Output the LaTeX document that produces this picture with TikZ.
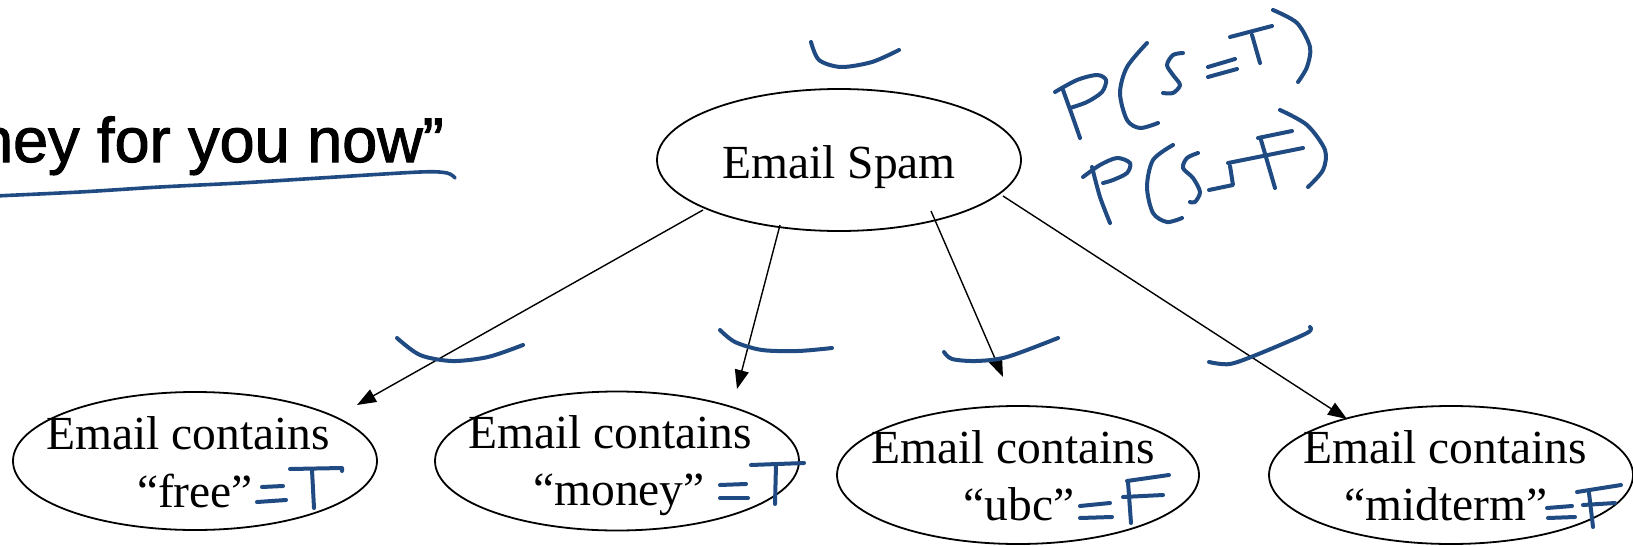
\documentclass[tikz,border=0pt]{standalone}
\usepackage{fontspec}
\setmainfont{Liberation Serif}
\newfontfamily\headfont[FakeBold=1.6]{Liberation Sans}
\usetikzlibrary{arrows.meta,shapes.geometric,calc}
\definecolor{inkblue}{RGB}{31,75,130}
\tikzset{
  oval/.style={ellipse, draw, line width=1.8pt, inner sep=0pt},
  lbl/.style={inner sep=0pt, anchor=base, font=\fontsize{47.5}{57}\selectfont},
  link/.style={line width=1.4pt, -{Triangle[length=19pt,width=14pt]}},
  ink/.style={draw=inkblue, line width=4pt, line cap=round, line join=round},
}
\begin{document}
\begin{tikzpicture}[x=1pt,y=-1pt]
\useasboundingbox (0,0) rectangle (1633,546);

% heading fragment with its hand-drawn underline
\node[inner sep=0pt, anchor=base east, font=\headfont\fontsize{63}{75}\selectfont] (head) at (444,162) {ney for you now”};
\draw[ink, line width=3.6pt] plot[smooth] coordinates {(-5,196) (80,192) (160,187) (240,183) (320,178) (420,172) (447,173) (455,178)};

% nodes
\node[oval, minimum width=364pt, minimum height=142pt] (spam) at (839,160) {};
\node[lbl] (spamtxt) at (839,178) {Email Spam};

\node[oval, minimum width=364pt, minimum height=138pt] (free) at (195,461) {};
\node[lbl] (free1) at (188,449) {Email contains};
\node[lbl] (free2) at (195,507) {“free”};

\node[oval, minimum width=364pt, minimum height=139pt] (money) at (617,461) {};
\node[lbl] (money1) at (610,448) {Email contains};
\node[lbl] (money2) at (619,505) {“money”};

\node[oval, minimum width=362pt, minimum height=138pt] (ubc) at (1018,475) {};
\node[lbl] (ubc1) at (1013,463) {Email contains};
\node[lbl] (ubc2) at (1019,520) {“ubc”};

\node[oval, minimum width=364pt, minimum height=138pt] (midterm) at (1451,475) {};
\node[lbl] (midterm1) at (1445,463) {Email contains};
\node[lbl] (midterm2) at (1446,520) {“midterm”};

% connectors
\coordinate (sFree) at ($(spam.center)+(-136,50)$);
\coordinate (sMoney) at ($(spam.center)+(-59,65)$);
\coordinate (sUbc) at ($(spam.center)+(92,51)$);
\coordinate (sMid) at ($(spam.center)+(164,36)$);
\coordinate (tFree) at ($(free.center)+(162,-56)$);
\coordinate (tMoney) at ($(money.center)+(120,-72)$);
\coordinate (tUbc) at ($(ubc.center)+(-15,-98)$);
\coordinate (tMid) at ($(midterm.center)+(-104,-56)$);
\draw[link] (sFree) -- (tFree);
\draw[link] (sMoney) -- (tMoney);
\draw[link] (sUbc) -- (tUbc);
\draw[link] (sMid) -- (tMid);

% ink marks over the nodes and arrows
\draw[ink] plot[smooth] coordinates {(811,42) (819,60) (841,67) (872,62) (899,50)};
\draw[ink] plot[smooth] coordinates {(397,338) (420,355) (452,361) (488,357) (523,345)};
\draw[ink] plot[smooth] coordinates {(720,330) (735,342) (762,350) (798,351) (832,348)};
\draw[ink] plot[smooth] coordinates {(944,352) (952,359) (976,361) (1007,357) (1058,338)};
\draw[ink] plot[smooth] coordinates {(1209,362) (1230,364) (1261,353) (1307,333) (1310,327)};

% P(S=T)
\draw[ink] plot[smooth] coordinates {(1063,90) (1072,115) (1080,138)};
\draw[ink] plot[smooth] coordinates {(1055,92) (1077,80) (1097,75) (1106,80) (1102,92) (1087,102) (1070,108)};
\draw[ink] plot[smooth] coordinates {(1147,43) (1127,67) (1120,93) (1127,120) (1140,128) (1158,123)};
\draw[ink] plot[smooth] coordinates {(1183,53) (1173,55) (1167,65) (1173,75) (1180,85) (1173,93) (1163,93)};
\draw[ink] (1208,67) -- (1235,59);
\draw[ink] (1208,77) -- (1237,69);
\draw[ink] (1230,37) -- (1272,26);
\draw[ink] (1252,35) -- (1260,63);
\draw[ink] plot[smooth] coordinates {(1273,10) (1297,23) (1310,47) (1307,67) (1298,82)};

% P(S=F)
\draw[ink] plot[smooth] coordinates {(1092,167) (1100,197) (1110,223)};
\draw[ink] plot[smooth] coordinates {(1083,177) (1100,165) (1117,158) (1130,163) (1127,173) (1113,180) (1103,183)};
\draw[ink] plot[smooth] coordinates {(1173,145) (1153,160) (1147,187) (1153,213) (1167,222) (1182,218)};
\draw[ink] plot[smooth] coordinates {(1198,153) (1187,158) (1183,168) (1193,178) (1200,192) (1195,202) (1190,202)};
\draw[ink] (1209,190) -- (1233,185) -- (1230,166);
\draw[ink] (1228,163) -- (1303,148);
\draw[ink] (1258,138) -- (1292,131);
\draw[ink] (1261,140) -- (1275,188);
\draw[ink] plot[smooth] coordinates {(1280,110) (1307,125) (1325,150) (1323,170) (1308,187)};

% =T, =T, =F, =F
\draw[ink] (262,487) -- (283,486);
\draw[ink] (257,502) -- (286,500);
\draw[ink] (290,469) -- (342,468) -- (342,471);
\draw[ink] (312,470) -- (314,508);

\draw[ink] (720,485) -- (746,484);
\draw[ink] (720,498) -- (748,498);
\draw[ink] (751,465) -- (804,463);
\draw[ink] (776,465) -- (775,504);

\draw[ink] (1080,506) -- (1110,503);
\draw[ink] (1080,518) -- (1112,517);
\draw[ink] (1127,481) -- (1169,475);
\draw[ink] (1123,497) -- (1163,495);
\draw[ink] (1128,482) -- (1131,523);

\draw[ink] (1547,508) -- (1572,506);
\draw[ink] (1548,518) -- (1575,517);
\draw[ink] (1577,492) -- (1621,485);
\draw[ink] (1583,505) -- (1615,503);
\draw[ink] (1589,493) -- (1593,527);
\end{tikzpicture}
\end{document}
